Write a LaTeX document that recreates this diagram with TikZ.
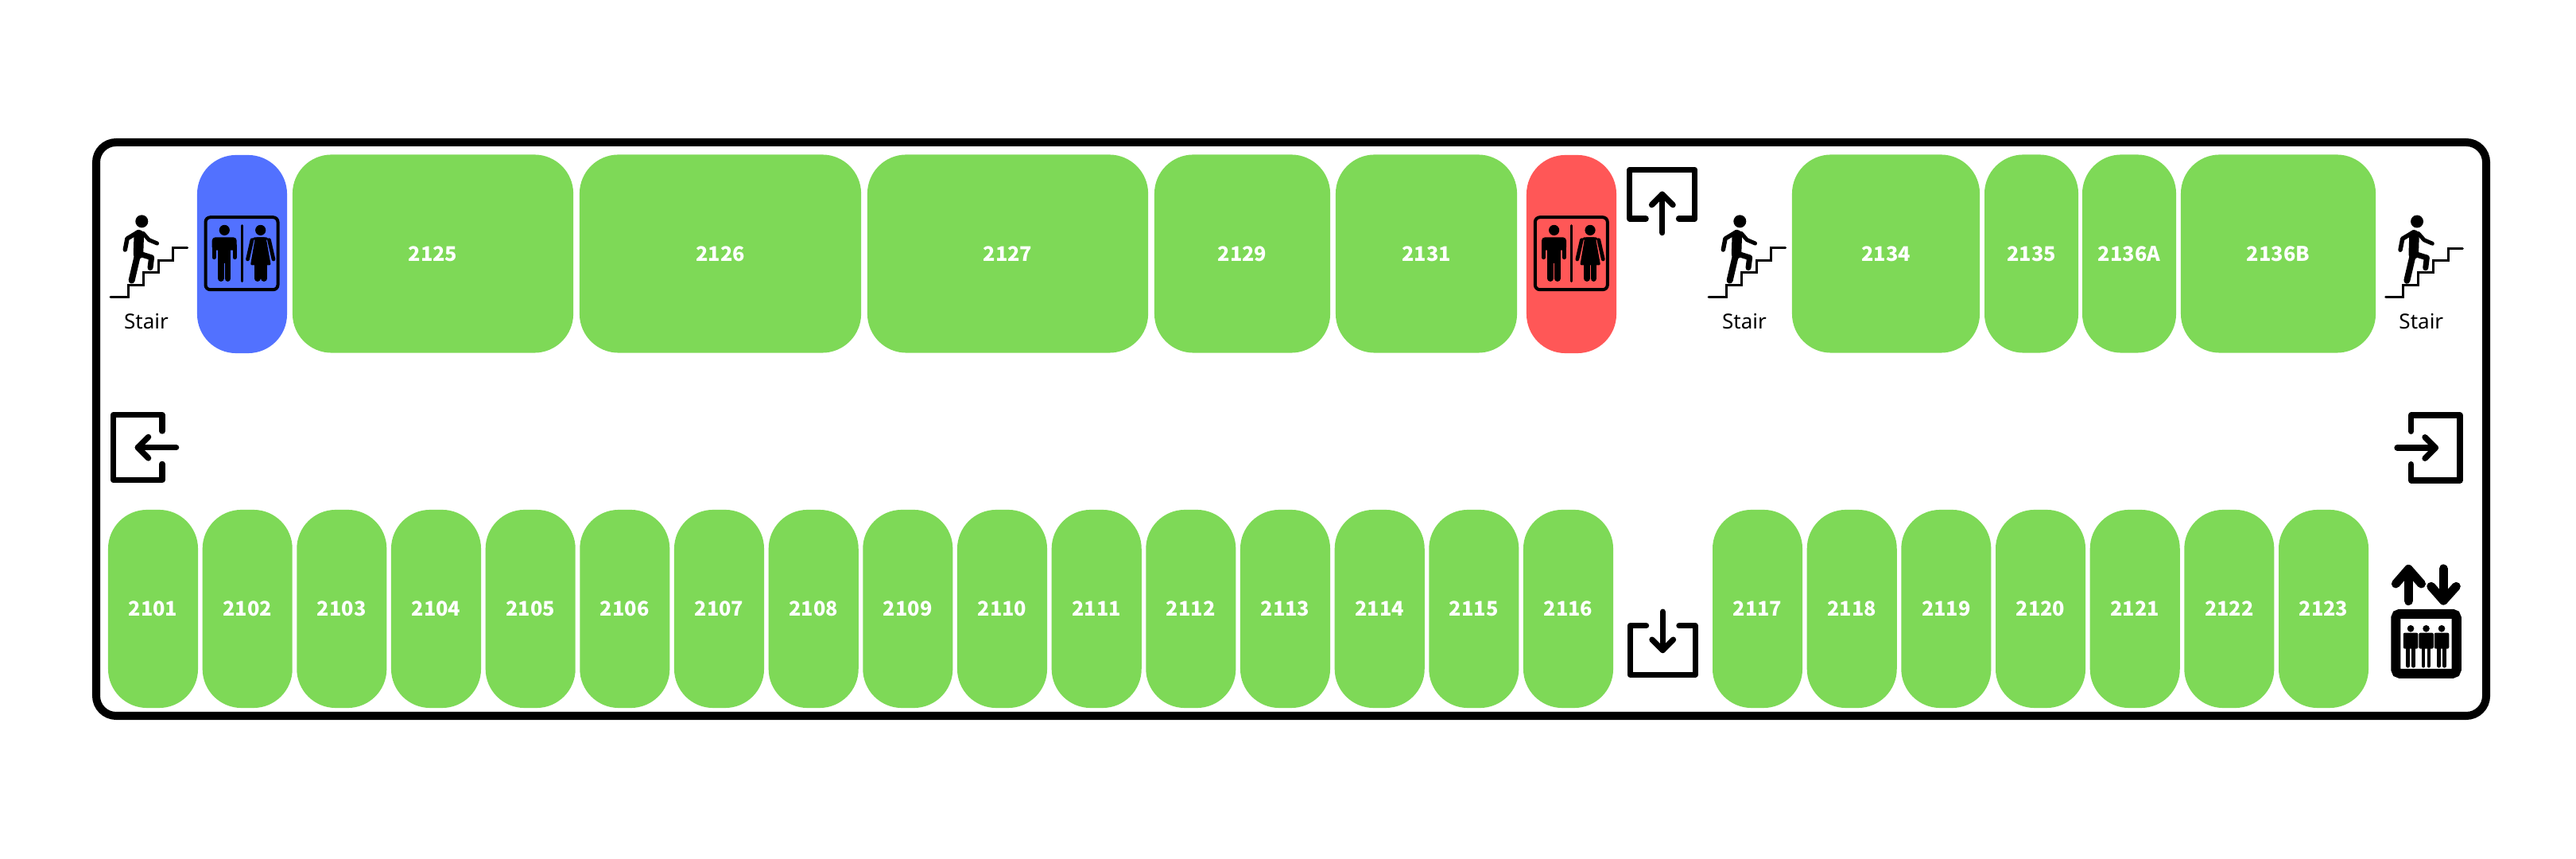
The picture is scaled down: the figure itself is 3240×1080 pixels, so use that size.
\documentclass[tikz,border=0pt]{standalone}
\usepackage{fontspec}
\setmainfont{Noto Sans}
\newfontfamily\roomfont{Noto Sans CJK KR}
\usepackage{tikz}
\usetikzlibrary{positioning}
\definecolor{roomGreen}{HTML}{7ED957}
\definecolor{wcBlue}{HTML}{5271FF}
\definecolor{wcRed}{HTML}{FF5757}

\begin{document}
\begin{tikzpicture}[
  x=0.01cm, y=-0.01cm,
  room/.style={rectangle, fill=roomGreen, rounded corners=0.49cm, inner sep=0pt, minimum width=1.13cm, minimum height=2.49cm, align=center, font=\roomfont\bfseries\fontsize{7.2pt}{8pt}\selectfont, text=white},
  wcblue/.style={room, fill=wcBlue},
  wcred/.style={room, fill=wcRed},
  stairlabel/.style={inner sep=0pt, font=\fontsize{7.4pt}{9pt}\selectfont, text=black},
  stairicon/.pic={
    \fill (0,0) circle (8);
    \draw[line width=0.3mm, line join=miter, line cap=round] (-39.3,95.3) -- (-17.3,95.3) -- (-17.3,80) -- (1.7,80) -- (1.7,64.3) -- (20.7,64.3) -- (20.7,49) -- (39,49) -- (39,33.7) -- (57.3,33.7);
    \draw[line width=0.55mm, line cap=round, line join=round] (-4.3,13.3) -- (-18.3,21.7) -- (-21,35.7);
    \draw[line width=0.5mm, line cap=round, line join=round] (1.7,15) -- (9,23.3) -- (19.3,27.7);
    \draw[line width=1.25mm, line cap=round] (-3.5,17) -- (-4.3,41);
    \draw[line width=0.8mm, line cap=round] (-4.3,38.3) -- (-12.7,74.3);
    \draw[line width=0.7mm, line cap=round, line join=round] (0,41.7) -- (12.3,45.5) -- (10.7,58.3);
  },
  wcicon/.pic={
    \draw[line width=0.4mm, rounded corners=0.06cm] (-45.5,-45.5) rectangle (45.5,45.5);
    \draw[line width=0.3mm, line cap=round] (0,-35) -- (0,35);
    % man
    \fill (-21.7,-29.3) circle (6.6);
    \fill[rounded corners=0.04cm] (-37.3,-20.3) rectangle (-6.3,-4);
    \fill (-30,-20) rectangle (-13.7,12);
    \draw[line width=0.5mm, line cap=round] (-34.8,-10) -- (-34.8,5);
    \draw[line width=0.5mm, line cap=round] (-8.8,-10) -- (-8.8,5);
    \draw[line width=0.76mm, line cap=round] (-26.2,10) -- (-26.2,31.5);
    \draw[line width=0.76mm, line cap=round] (-17.5,10) -- (-17.5,31.5);
    % woman
    \fill (23.7,-29.3) circle (6.6);
    \fill[rounded corners=0.02cm] (17,-20.3) -- (30.5,-20.3) -- (36.7,14.7) -- (11,14.7) -- cycle;
    \fill (16,-20.3) -- (31,-20.3) -- (36,-17) -- (11,-17) -- cycle;
    \draw[line width=0.47mm, line cap=round] (13,-17) -- (7.5,7.3);
    \draw[line width=0.47mm, line cap=round] (34.5,-17) -- (40,7.3);
    \draw[line width=0.76mm, line cap=round] (19.7,14) -- (19.7,31.5);
    \draw[line width=0.76mm, line cap=round] (28,14) -- (28,31.5);
  },
  exiticon/.pic={
    \draw[line width=0.73mm, line cap=round, line join=round] (30.7,-20.7) -- (30.7,-41) -- (-30.7,-41) -- (-30.7,41) -- (30.7,41) -- (30.7,20.7);
    \draw[line width=0.73mm, line cap=round, line join=round] (48.3,0) -- (0,0);
    \draw[line width=0.73mm, line cap=round, line join=round] (13.3,-13.3) -- (0,0) -- (13.3,13.3);
  },
  rider/.pic={
    \fill (0,-19) circle (4.3);
    \fill[rounded corners=0.02cm] (-9.3,-13.7) rectangle (9.3,6.3);
    \draw[line width=0.45mm, line cap=round] (-3.4,5) -- (-3.4,28);
    \draw[line width=0.45mm, line cap=round] (3.4,5) -- (3.4,28);
  },
  lifticon/.pic={
    \draw[line width=1.2mm, rounded corners=0.05cm] (-38.2,-37.5) rectangle (38.2,37.5);
    \pic at (-19.5,0) {rider};
    \pic at (0,0) {rider};
    \pic at (19.5,0) {rider};
    \draw[line width=1.1mm, line cap=round, line join=round] (-22.2,-53.7) -- (-22.2,-93.7);
    \draw[line width=1.1mm, line cap=round, line join=round] (-38.2,-75.3) -- (-22.2,-93.7) -- (-6,-75.3);
    \draw[line width=1.1mm, line cap=round, line join=round] (21.8,-94.3) -- (21.8,-54.3);
    \draw[line width=1.1mm, line cap=round, line join=round] (6.2,-72) -- (21.8,-54.3) -- (37.8,-72);
  },
]
  \fill[white] (0,0) rectangle (3240,1080);
  \useasboundingbox (0,0) rectangle (3240,1080);

  % Outer wall
  \draw[line width=1mm, rounded corners=0.25cm] (121,179) rectangle (3127,900);

  % Top row
  \node[wcblue] (wcA) at (304.5,319.5) {};
  \node[room, minimum width=3.53cm] (r2125) at (544.5,319) {2125};
  \node[room, minimum width=3.54cm] (r2126) at (906,319) {2126};
  \node[room, minimum width=3.53cm] (r2127) at (1267.5,319) {2127};
  \node[room, minimum width=2.21cm] (r2129) at (1562.5,319) {2129};
  \node[room, minimum width=2.28cm] (r2131) at (1794,319) {2131};
  \node[wcred] (wcB) at (1976.5,319.5) {};
  \node[room, minimum width=2.36cm] (r2134) at (2372,319) {2134};
  \node[room, minimum width=1.18cm] (r2135) at (2555,319) {2135};
  \node[room, minimum width=1.18cm] (r2136A) at (2678,319) {2136A};
  \node[room, minimum width=2.45cm] (r2136B) at (2865.5,319) {2136B};

  % Bottom row
  \node[room] (r2101) at (192.5,765.5) {2101};
  \node[room] (r2102) at (311.2,765.5) {2102};
  \node[room] (r2103) at (429.8,765.5) {2103};
  \node[room] (r2104) at (548.5,765.5) {2104};
  \node[room] (r2105) at (667.2,765.5) {2105};
  \node[room] (r2106) at (785.8,765.5) {2106};
  \node[room] (r2107) at (904.5,765.5) {2107};
  \node[room] (r2108) at (1023.2,765.5) {2108};
  \node[room] (r2109) at (1141.8,765.5) {2109};
  \node[room] (r2110) at (1260.5,765.5) {2110};
  \node[room] (r2111) at (1379.2,765.5) {2111};
  \node[room] (r2112) at (1497.8,765.5) {2112};
  \node[room] (r2113) at (1616.5,765.5) {2113};
  \node[room] (r2114) at (1735.2,765.5) {2114};
  \node[room] (r2115) at (1853.8,765.5) {2115};
  \node[room] (r2116) at (1972.5,765.5) {2116};
  \node[room] (r2117) at (2210.5,765.5) {2117};
  \node[room] (r2118) at (2329.2,765.5) {2118};
  \node[room] (r2119) at (2447.8,765.5) {2119};
  \node[room] (r2120) at (2566.5,765.5) {2120};
  \node[room] (r2121) at (2685.2,765.5) {2121};
  \node[room] (r2122) at (2803.8,765.5) {2122};
  \node[room] (r2123) at (2922.5,765.5) {2123};

  % Icons
  \pic at (304,318.7) {wcicon};
  \pic at (1976.3,318.7) {wcicon};
  \pic at (178.3,278.3) {stairicon};
  \pic at (2188.3,278.3) {stairicon};
  \pic at (3040,278.5) {stairicon};
  \node[stairlabel] (stairA) at (184,404) {Stair};
  \node[stairlabel] (stairB) at (2194,404) {Stair};
  \node[stairlabel] (stairC) at (3045.3,404) {Stair};
  \pic at (173.3,562.7) {exiticon};
  \pic[rotate=180] at (3063.3,563) {exiticon};
  \pic[rotate=-90] at (2090.8,244.3) {exiticon};
  \pic[rotate=90] at (2091.2,817.5) {exiticon};
  \pic at (3051.5,809.3) {lifticon};
\end{tikzpicture}
\end{document}
